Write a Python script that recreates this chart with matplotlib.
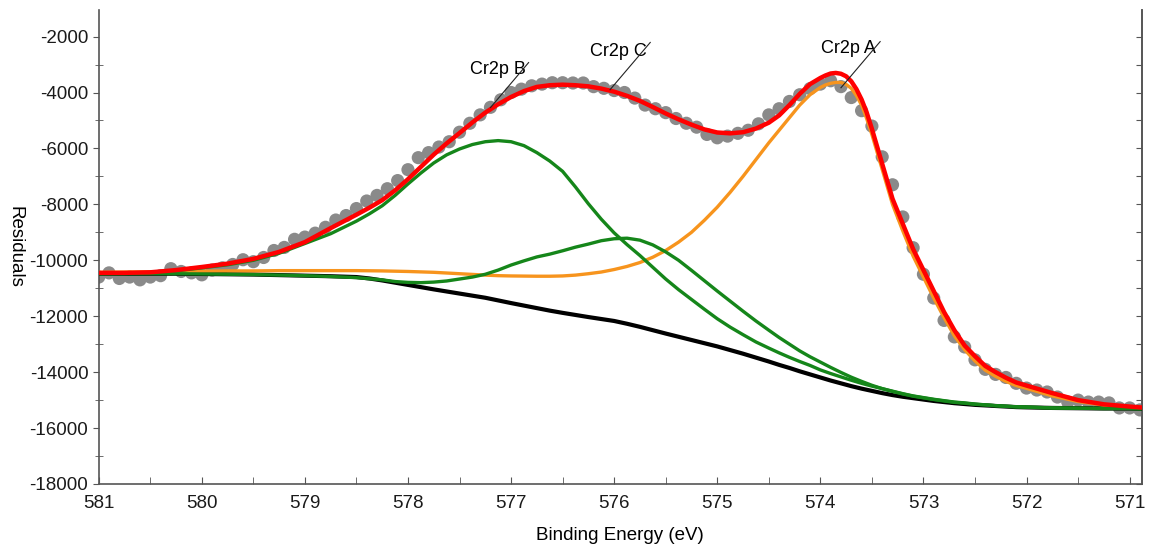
# XPS Cr2p fit: data points, envelope, background and three components

import numpy as np
import matplotlib
matplotlib.use("Agg")
import matplotlib.pyplot as plt
from matplotlib.ticker import MultipleLocator, FuncFormatter

plt.rcParams['font.family'] = ['Liberation Sans', 'DejaVu Sans']
plt.rcParams['axes.unicode_minus'] = False

# Binding energy grid for the fitted curves (eV)
energy_fit = [581.0, 580.75, 580.5, 580.25, 580.0, 579.75, 579.5, 579.25, 579.0, 578.75,
              578.5, 578.375, 578.25, 578.125, 578.0, 577.875, 577.75, 577.625, 577.5, 577.375,
              577.25, 577.125, 577.0, 576.875, 576.75, 576.625, 576.5, 576.375, 576.25, 576.125,
              576.0, 575.875, 575.75, 575.625, 575.5, 575.375, 575.25, 575.125, 575.0, 574.875,
              574.75, 574.625, 574.5, 574.4, 574.3, 574.2, 574.1, 574.0, 573.95, 573.9,
              573.85, 573.8, 573.75, 573.7, 573.65, 573.6, 573.55, 573.5, 573.4, 573.3,
              573.2, 573.1, 573.0, 572.9, 572.8, 572.7, 572.6, 572.5, 572.4, 572.3,
              572.2, 572.1, 572.0, 571.75, 571.5, 571.25, 571.0, 570.9]

envelope = [-10450, -10450, -10430, -10350, -10240, -10120, -9950, -9700, -9350, -8850,
            -8370, -8120, -7850, -7500, -7100, -6660, -6220, -5820, -5450, -5070,
            -4720, -4420, -4160, -3950, -3800, -3740, -3720, -3740, -3780, -3860,
            -3970, -4120, -4300, -4520, -4750, -4960, -5150, -5320, -5430, -5460,
            -5420, -5290, -5080, -4820, -4450, -4050, -3700, -3480, -3390, -3320,
            -3300, -3330, -3420, -3600, -3880, -4250, -4720, -5300, -6550, -7800,
            -8700, -9600, -10350, -11100, -11850, -12500, -13050, -13430, -13780, -14000,
            -14200, -14370, -14480, -14750, -15000, -15150, -15230, -15260]

background = [-10480, -10480, -10480, -10480, -10490, -10500, -10510, -10530, -10550, -10570,
              -10600, -10650, -10720, -10800, -10880, -10960, -11040, -11115, -11190, -11265,
              -11340, -11435, -11530, -11620, -11710, -11800, -11880, -11955, -12030, -12100,
              -12170, -12270, -12380, -12500, -12620, -12735, -12850, -12965, -13080, -13210,
              -13340, -13480, -13620, -13740, -13850, -13970, -14080, -14190, -14245, -14300,
              -14350, -14400, -14450, -14500, -14545, -14590, -14630, -14670, -14750, -14820,
              -14880, -14930, -14980, -15030, -15070, -15110, -15140, -15170, -15190, -15210,
              -15230, -15250, -15260, -15280, -15290, -15300, -15300, -15310]

peak_a = [-10430, -10420, -10410, -10400, -10390, -10380, -10380, -10370, -10370, -10370,
          -10370, -10375, -10380, -10390, -10400, -10415, -10430, -10455, -10480, -10505,
          -10530, -10550, -10560, -10565, -10570, -10570, -10560, -10530, -10480, -10420,
          -10330, -10220, -10080, -9890, -9650, -9350, -9000, -8570, -8100, -7570,
          -7000, -6400, -5800, -5350, -4900, -4450, -4080, -3820, -3730, -3670,
          -3640, -3640, -3710, -3850, -4110, -4450, -4940, -5500, -6750, -8000,
          -8950, -9850, -10600, -11350, -12050, -12700, -13200, -13600, -13930, -14150,
          -14330, -14480, -14580, -14850, -15050, -15180, -15250, -15270]

peak_b = [-10480, -10470, -10450, -10380, -10270, -10160, -10000, -9750, -9400, -9050,
          -8600, -8340, -8050, -7680, -7270, -6880, -6520, -6230, -6020, -5860,
          -5760, -5720, -5760, -5900, -6150, -6450, -6820, -7380, -7980, -8530,
          -9020, -9440, -9830, -10250, -10670, -11050, -11400, -11750, -12090, -12390,
          -12660, -12920, -13140, -13310, -13470, -13620, -13760, -13920, -13985, -14050,
          -14110, -14170, -14230, -14290, -14345, -14400, -14450, -14500, -14590, -14680,
          -14770, -14850, -14910, -14970, -15020, -15070, -15100, -15140, -15170, -15200,
          -15220, -15240, -15250, -15280, -15290, -15300, -15300, -15310]

peak_c = [-10480, -10480, -10480, -10480, -10490, -10500, -10510, -10530, -10550, -10580,
          -10620, -10660, -10700, -10760, -10790, -10800, -10780, -10740, -10670, -10600,
          -10500, -10350, -10170, -10020, -9880, -9780, -9660, -9530, -9420, -9300,
          -9230, -9210, -9280, -9450, -9700, -10000, -10360, -10730, -11100, -11460,
          -11820, -12170, -12500, -12760, -13000, -13240, -13450, -13640, -13735, -13830,
          -13920, -14010, -14095, -14180, -14255, -14330, -14400, -14470, -14590, -14690,
          -14780, -14860, -14920, -14980, -15030, -15080, -15110, -15150, -15170, -15200,
          -15220, -15240, -15250, -15280, -15290, -15300, -15300, -15310]

# Measured points, 0.1 eV steps from 581.0 down to 570.9
energy_data = np.linspace(581.0, 570.9, 102)
counts = [-10600, -10450, -10650, -10600, -10700, -10600, -10550, -10300, -10400, -10450,
          -10520, -10350, -10270, -10150, -9980, -10050, -9900, -9650, -9540, -9250,
          -9170, -9030, -8820, -8560, -8400, -8150, -7880, -7680, -7440, -7150,
          -6760, -6330, -6150, -5950, -5760, -5420, -5100, -4800, -4530, -4260,
          -4000, -3880, -3760, -3700, -3650, -3650, -3660, -3660, -3790, -3850,
          -3930, -4000, -4200, -4450, -4580, -4720, -4930, -5100, -5240, -5500,
          -5620, -5560, -5460, -5350, -5120, -4800, -4580, -4320, -4080, -3860,
          -3700, -3580, -3790, -4180, -4650, -5200, -6300, -7300, -8450, -9550,
          -10500, -11350, -12150, -12740, -13100, -13560, -13900, -14080, -14190, -14400,
          -14570, -14640, -14710, -14890, -15070, -15000, -15070, -15070, -15100, -15280,
          -15280, -15350]

# Peak labels: text position and leader line (start, end)
labels = ['Cr2p A', 'Cr2p C', 'Cr2p B']
label_xy = [(573.73, -2420), (575.96, -2540), (577.13, -3170)]
leader_from = [(573.42, -2180), (575.65, -2210), (576.83, -2930)]
leader_to = [(573.80, -3830), (576.04, -3900), (577.20, -4540)]

fig = plt.figure(figsize=(11.49, 5.5), dpi=100)
ax = fig.add_axes([0.0859, 0.12, 0.908, 0.8618])

ax.scatter(energy_data, counts, s=90, color='#8a8a8a', edgecolors='none', zorder=2)
ax.plot(energy_fit, background, color='black', lw=3.0, zorder=3)
ax.plot(energy_fit, peak_a, color='#f7941d', lw=2.4, zorder=4)
ax.plot(energy_fit, peak_b, color='#15861a', lw=2.4, zorder=4)
ax.plot(energy_fit, peak_c, color='#15861a', lw=2.4, zorder=4)
ax.plot(energy_fit, envelope, color='#ff0000', lw=3.2, zorder=5)

for name, (tx, ty), (x0, y0), (x1, y1) in zip(labels, label_xy, leader_from, leader_to):
    ax.text(tx, ty, name, fontsize=13, ha='center', va='center', zorder=6)
    ax.plot([x0, x1], [y0, y1], color='#222222', lw=0.8, zorder=6)

ax.set_xlim(581.0, 570.88)
ax.set_ylim(-18000, -1050)

ax.xaxis.set_major_locator(MultipleLocator(1))
ax.xaxis.set_minor_locator(MultipleLocator(0.5))
ax.yaxis.set_major_locator(MultipleLocator(2000))
ax.yaxis.set_minor_locator(MultipleLocator(1000))
ax.xaxis.set_major_formatter(FuncFormatter(lambda v, p: f"{v:.0f}"))
ax.yaxis.set_major_formatter(FuncFormatter(lambda v, p: f"{v:.0f}"))

spine_col = '#555555'
for side in ['left', 'bottom', 'right']:
    ax.spines[side].set_color(spine_col)
    ax.spines[side].set_linewidth(1.2)
ax.spines['top'].set_visible(False)

ax.tick_params(axis='both', which='both', colors=spine_col, labelcolor='#1a1a1a',
               labelsize=13.5)
ax.tick_params(axis='y', which='major', direction='out', length=4)
ax.tick_params(axis='y', which='minor', direction='inout', length=6)
ax.tick_params(axis='x', which='both', direction='in', length=5, pad=8)

right = ax.secondary_yaxis('right')
right.yaxis.set_major_locator(MultipleLocator(1000))
right.tick_params(direction='in', length=4, colors=spine_col, labelright=False)
right.spines['right'].set_color(spine_col)
right.spines['right'].set_linewidth(1.2)

ax.set_xlabel('Binding Energy (eV)', fontsize=13.5, labelpad=11)
ax.set_ylabel('Residuals', fontsize=13.5, rotation=270, va='center', ha='center')
ax.yaxis.set_label_coords(-0.0802, 0.5)

fig.savefig('out.png', dpi=100)
